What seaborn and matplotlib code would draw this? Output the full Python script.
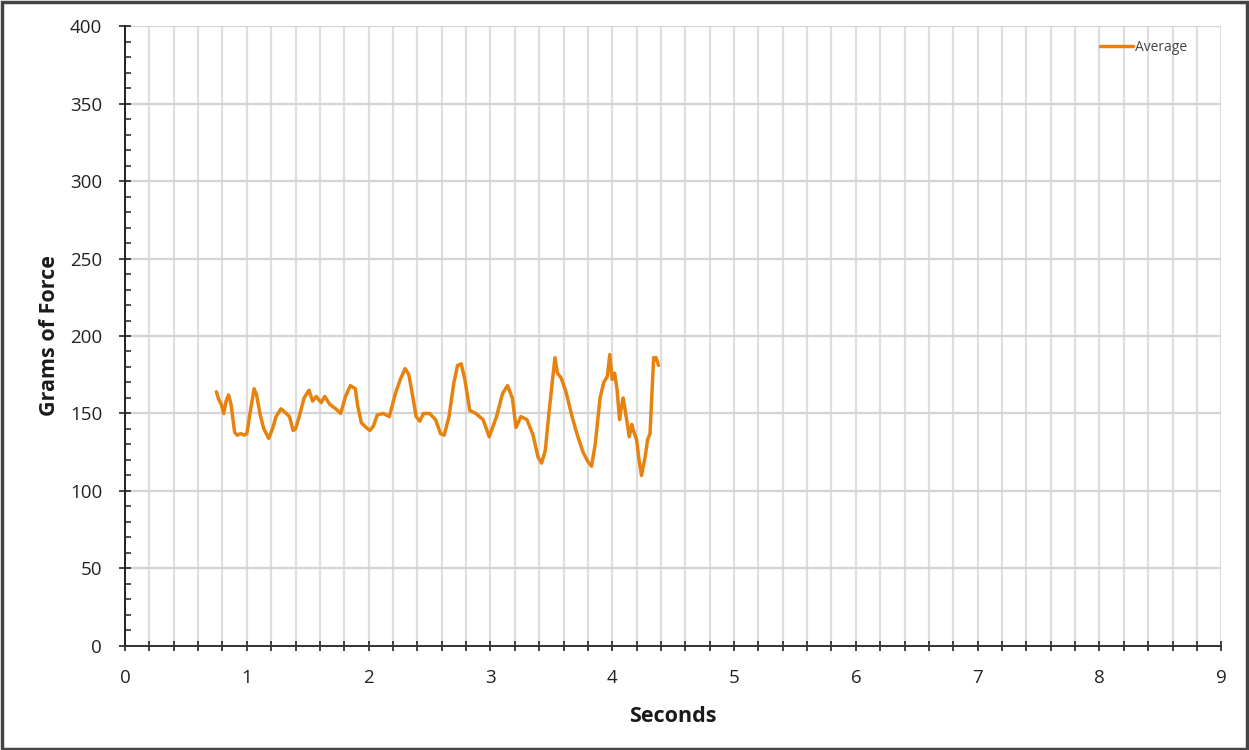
import numpy as np
import pandas as pd
import matplotlib
matplotlib.use("Agg")
import matplotlib.pyplot as plt
import seaborn as sns
from matplotlib.ticker import MultipleLocator
from matplotlib.patches import Rectangle

# ---- data ----
seconds = [0.75, 0.77, 0.79, 0.81, 0.83, 0.85, 0.87, 0.90, 0.92, 0.95,
           0.98, 1.00, 1.03, 1.06, 1.08, 1.11, 1.14, 1.18, 1.21, 1.24,
           1.28, 1.31, 1.35, 1.38, 1.40, 1.43, 1.47, 1.51, 1.54, 1.57,
           1.61, 1.64, 1.68, 1.73, 1.77, 1.81, 1.85, 1.89, 1.91, 1.94,
           1.98, 2.01, 2.04, 2.07, 2.12, 2.17, 2.22, 2.26, 2.30, 2.33,
           2.36, 2.39, 2.42, 2.45, 2.50, 2.55, 2.59, 2.62, 2.66, 2.70,
           2.73, 2.76, 2.79, 2.83, 2.88, 2.94, 2.99, 3.05, 3.10, 3.14,
           3.18, 3.21, 3.25, 3.30, 3.35, 3.39, 3.42, 3.45, 3.48, 3.51,
           3.53, 3.55, 3.58, 3.62, 3.67, 3.71, 3.76, 3.80, 3.83, 3.86,
           3.90, 3.93, 3.96, 3.98, 4.00, 4.02, 4.04, 4.06, 4.07, 4.09,
           4.10, 4.13, 4.14, 4.16, 4.17, 4.20, 4.22, 4.24, 4.27, 4.29,
           4.31, 4.34, 4.36, 4.38]
average = [164, 159, 156, 150, 158, 162, 156, 138, 136, 137,
           136, 137, 152, 166, 162, 149, 140, 134, 140, 148,
           153, 151, 148, 139, 140, 148, 160, 165, 158, 161,
           157, 161, 156, 153, 150, 161, 168, 166, 155, 144,
           141, 139, 142, 149, 150, 148, 163, 172, 179, 175,
           162, 148, 145, 150, 150, 146, 137, 136, 148, 170,
           181, 182, 172, 152, 150, 146, 135, 148, 163, 168,
           160, 141, 148, 146, 136, 122, 118, 126, 150, 172,
           186, 176, 173, 164, 148, 137, 125, 119, 116, 130,
           160, 170, 174, 188, 172, 176, 165, 146, 152, 160,
           155, 140, 135, 143, 140, 133, 120, 110, 122, 133,
           137, 186, 186, 181]

xlabel = "Seconds"
ylabel = "Grams of Force"
series_name = "Average"

df = pd.DataFrame({"Seconds": seconds, "Average": average})

sns.set_style("white")
plt.rcParams['font.family'] = ['Open Sans', 'DejaVu Sans']

fig = plt.figure(figsize=(12.49, 7.5), dpi=100)
ax = fig.add_axes([0.1001, 0.1387, 0.8777, 0.8266])

orange = "#E8820E"
sns.lineplot(data=df, x="Seconds", y="Average", ax=ax, color=orange, linewidth=2.5,
             label=series_name, estimator=None, sort=False)

ax.set_xlim(0, 9)
ax.set_ylim(0, 400)

# grid
ax.xaxis.set_major_locator(MultipleLocator(1))
ax.xaxis.set_minor_locator(MultipleLocator(0.2))
ax.yaxis.set_major_locator(MultipleLocator(50))
ax.yaxis.set_minor_locator(MultipleLocator(10))
ax.grid(True, which="major", axis="y", color="#d4d4d4", linewidth=1.6)
ax.grid(True, which="both", axis="x", color="#dedede", linewidth=1.6)
ax.set_axisbelow(True)

for s in ["top", "right"]:
    ax.spines[s].set_visible(False)
ax.spines["left"].set_color("#222222")
ax.spines["bottom"].set_color("#333333")
ax.spines["left"].set_linewidth(1.4)
ax.spines["bottom"].set_linewidth(1.4)

ax.tick_params(axis="y", which="both", left=True)
ax.tick_params(axis="x", which="both", bottom=True)
ax.tick_params(axis="y", which="major", direction="inout", length=9, width=1.3,
               color="#333333", labelsize=13.5, labelcolor="#222222", pad=12)
ax.tick_params(axis="y", which="minor", direction="in", length=4, width=1.2, color="#333333")
ax.tick_params(axis="x", which="both", direction="inout", length=7, width=1.3,
               color="#333333", labelsize=13.5, labelcolor="#222222", pad=13)
ax.tick_params(axis="x", which="minor", labelbottom=False)

ax.set_xlabel(xlabel, fontsize=15.5, fontweight="bold",
              color="#1a1a1a", labelpad=14)
ax.set_ylabel(ylabel, fontsize=15.5, fontweight="bold",
              color="#1a1a1a", labelpad=7)

leg = ax.legend(loc="upper right", frameon=False,
                bbox_to_anchor=(0.98, 0.998), handlelength=2.4, handletextpad=0.1,
                prop={"family": "Open Sans", "size": 10})
for t in leg.get_texts():
    t.set_color("#444444")

# outer frame of the figure
fig.patches.append(Rectangle((0.002, 0.002), 0.996, 0.996, transform=fig.transFigure,
                             fill=False, edgecolor="#444444", linewidth=2.5))

fig.savefig("out.png", dpi=100)
